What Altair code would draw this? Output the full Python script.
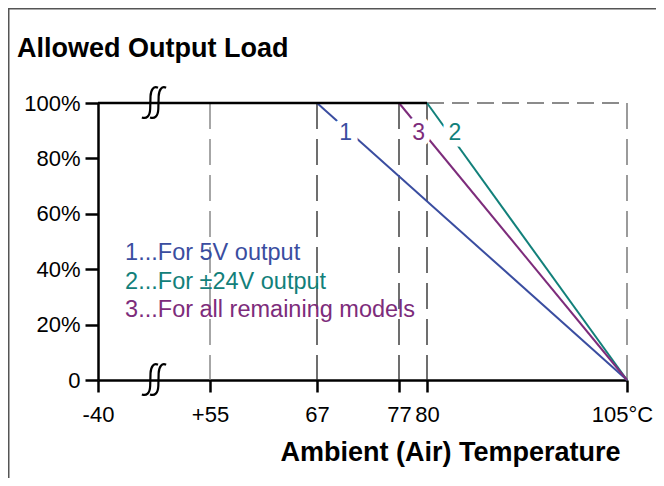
import altair as alt
import pandas as pd

FONT = "Liberation Sans"

# ---- data ----
tick_temps = [-40, 55, 67, 77, 80, 105]
load_ticks = [0, 20, 40, 60, 80, 100]

series_ids = ["1", "2", "3"]
series_knee = [67, 80, 77]
series_colors = ["#3A4DA0", "#12807A", "#7D2C7B"]
derate_end = 105
full_load = 100
zero_load = 0
plateau_start = -40

label_temp = [70.5, 83.5, 79.1]
label_load = [89.3, 89.3, 89.3]

legend_lines = ["1...For 5V output", "2...For \u00b124V output", "3...For all remaining models"]
legend_temp = [-17, -17, -17]
legend_load = [45.8, 35.5, 25.3]

grid_temps = [55, 67, 77, 80, 105]
grid_colors = ["#777777", "#222222", "#222222", "#222222", "#666666"]

break_temp = 8
break_loads = [100, 0]

# axis-break glyph (two integral-like strokes), drawn as a custom symbol
BREAK_PATH = (
    "M 0.2 -0.9 C -0.05 -1.02 -0.22 -0.8 -0.24 -0.4 L -0.26 0.35 "
    "C -0.28 0.8 -0.48 0.95 -0.75 0.85 "
    "M 0.68 -0.9 C 0.43 -1.02 0.26 -0.8 0.24 -0.4 L 0.22 0.35 "
    "C 0.2 0.8 0.0 0.95 -0.27 0.85"
)

# ---- scales (piecewise x axis, as in the original) ----
xs = alt.Scale(domain=tick_temps, range=[0, 112, 219, 301, 329, 529], nice=False, zero=False)
ys = alt.Scale(domain=[0, 100], nice=False, zero=False)

xaxis = alt.Axis(
    values=tick_temps,
    labelExpr="datum.value == 55 ? '+55' : datum.value == 105 ? '105\u00b0C' : '' + datum.value",
    labelOffset={"condition": {"test": "datum.value == 105", "value": -5}, "value": 0},
    title="Ambient (Air) Temperature", titleFont=FONT, titleFontSize=27, titleFontWeight="bold",
    titleColor="black", titleX=522, titleY=80, titleAlign="right", titleBaseline="alphabetic",
    domainColor="black", domainWidth=2.5, tickColor="black", tickWidth=2.5, tickSize=12,
    labelFont=FONT, labelFontSize=22, labelColor="black", labelPadding=12,
    labelOverlap=False, labelFlush=False, grid=False,
)
yaxis = alt.Axis(
    values=load_ticks,
    labelExpr="datum.value == 0 ? '0' : datum.value + '%'",
    title=None,
    domainColor="black", domainWidth=2.5, tickColor="black", tickWidth=2.5, tickSize=13,
    labelFont=FONT, labelFontSize=22, labelColor="black", labelPadding=5,
    labelOverlap=False, labelFlush=False, grid=False,
)


def X(field):
    return alt.X(field, scale=xs, axis=xaxis)


def Y(field):
    return alt.Y(field, scale=ys, axis=yaxis)


# ---- tables ----
rows = []
for sid, knee in zip(series_ids, series_knee):
    rows.append({"id": sid, "temp": knee, "load": full_load})
    rows.append({"id": sid, "temp": derate_end, "load": zero_load})
df_lines = pd.DataFrame(rows)

df_grid = pd.DataFrame({"temp": grid_temps, "color": grid_colors,
                        "y0": [zero_load] * len(grid_temps), "y1": [full_load] * len(grid_temps)})
df_plateau = pd.DataFrame({"temp": [plateau_start], "t1": [max(series_knee)], "load": [full_load]})
df_topdash = pd.DataFrame({"temp": [max(series_knee)], "t1": [derate_end], "load": [full_load]})
df_labels = pd.DataFrame({"id": series_ids, "temp": label_temp, "load": label_load})
df_legend = pd.DataFrame({"txt": legend_lines, "id": series_ids, "temp": legend_temp, "load": legend_load})
df_break = pd.DataFrame({"temp": [break_temp] * len(break_loads), "load": break_loads})
df_one = pd.DataFrame({"t": ["Allowed Output Load"]})

color_scale = alt.Scale(domain=series_ids, range=series_colors)

grid = alt.Chart(df_grid).mark_rule(strokeWidth=1.3, strokeDash=[26, 10]).encode(
    x=X("temp:Q"), y=Y("y1:Q"), y2="y0:Q",
    color=alt.Color("color:N", scale=None),
)
topdash = alt.Chart(df_topdash).mark_rule(strokeWidth=1.3, strokeDash=[17, 8], color="#666666").encode(
    x=X("temp:Q"), x2="t1:Q", y=Y("load:Q"),
)
lines = alt.Chart(df_lines).mark_line(strokeWidth=2).encode(
    x=X("temp:Q"), y=Y("load:Q"),
    color=alt.Color("id:N", scale=color_scale, legend=None),
    detail="id:N",
)
plateau = alt.Chart(df_plateau).mark_rule(strokeWidth=2.5, color="black").encode(
    x=X("temp:Q"), x2="t1:Q", y=Y("load:Q"),
)
halo = alt.Chart(df_labels).mark_text(fontSize=23, font=FONT, stroke="white", strokeWidth=13, fill="white").encode(
    x=X("temp:Q"), y=Y("load:Q"), text="id:N",
)
labels = alt.Chart(df_labels).mark_text(fontSize=23, font=FONT).encode(
    x=X("temp:Q"), y=Y("load:Q"), text="id:N",
    color=alt.Color("id:N", scale=color_scale, legend=None),
)
legend = alt.Chart(df_legend).mark_text(fontSize=23.5, font=FONT, align="left").encode(
    x=X("temp:Q"), y=Y("load:Q"), text="txt:N",
    color=alt.Color("id:N", scale=color_scale, legend=None),
)
breaks = alt.Chart(df_break).mark_point(
    shape=BREAK_PATH, size=1150, filled=False, stroke="black", strokeWidth=2.2, opacity=1
).encode(
    x=X("temp:Q"), y=Y("load:Q"),
)
title = alt.Chart(df_one).mark_text(align="left", baseline="alphabetic", fontSize=27,
                                    fontWeight="bold", font=FONT, color="black").encode(
    x=alt.value(-81), y=alt.value(-46), text="t:N",
)
frame_top = alt.Chart(df_one).mark_rule(color="#555555", strokeWidth=1.5).encode(
    x=alt.value(-90), x2=alt.value(560), y=alt.value(-94.25),
)
frame_left = alt.Chart(df_one).mark_rule(color="#555555", strokeWidth=1.5).encode(
    x=alt.value(-89.25), y=alt.value(-95), y2=alt.value(375),
)

chart = alt.layer(
    grid, topdash, lines, plateau, halo, labels, legend, breaks, title, frame_top, frame_left
).properties(
    width=529, height=277,
    autosize=alt.AutoSizeParams(type="none"),
    padding={"left": 90, "top": 95, "right": 29, "bottom": 98},
    background="white",
).configure_view(stroke=None)

chart.save("out.html", embed_options={"renderer": "svg", "actions": False})
